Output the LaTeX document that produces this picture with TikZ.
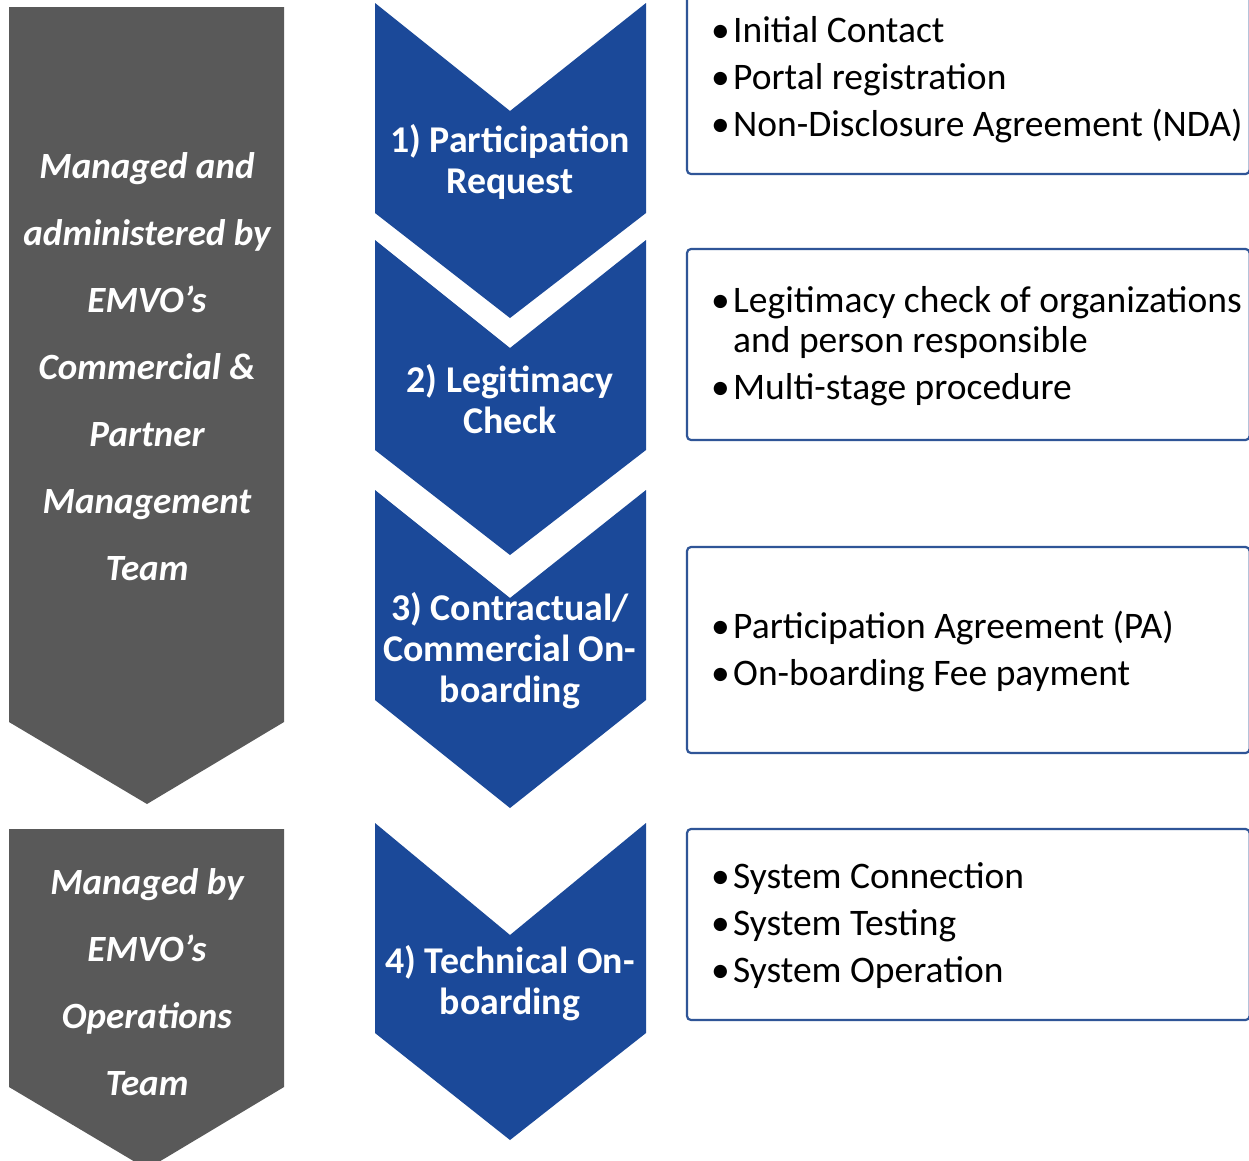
\documentclass[tikz,border=0pt]{standalone}
\usepackage{fontspec}
\setmainfont{Carlito}
\definecolor{greyarrow}{HTML}{595959}
\definecolor{chevblue}{HTML}{1B4999}
\definecolor{boxblue}{HTML}{2F5597}
\newcommand\blt[1]{\makebox[22pt][l]{\textbullet}#1}
\tikzset{
  greyshape/.style={fill=greyarrow, draw=none},
  chevshape/.style={fill=chevblue, draw=none},
  infobox/.style={draw=boxblue, line width=2.2pt, rounded corners=4pt},
  greytext/.style={text=white, align=center, inner sep=0pt,
    font=\fontsize{37}{67}\selectfont\bfseries\itshape},
  chevtext/.style={text=white, align=center, inner sep=0pt,
    font=\fontsize{37.8}{41}\selectfont\bfseries},
  bullettext/.style={anchor=base west, inner sep=0pt, text=black,
    font=\fontsize{37.5}{47}\selectfont}
}
\begin{document}
\begin{tikzpicture}[x=1pt, y=-1pt]
\clip (0,0) rectangle (1249,1160);
\fill[white] (0,0) rectangle (1249,1160);

% grey arrows
\fill[greyshape] (9,7) -- (284,7) -- (284,722) -- (147,804) -- (9,722) -- cycle;
\fill[greyshape] (9,829) -- (284,829) -- (284,1087) -- (147,1169) -- (9,1087) -- cycle;
\node[greytext] (g1) at (147,367) {Managed and\\administered by\\EMVO’s\\Commercial \&\\Partner\\Management\\Team};
\node[greytext] (g2) at (147,982) {Managed by\\EMVO’s\\Operations\\Team};

% blue chevrons
\fill[chevshape] (375,3) -- (510,111) -- (646,3) -- (646,213) -- (510,318) -- (375,213) -- cycle;
\fill[chevshape] (375,240) -- (510,348) -- (646,240) -- (646,450) -- (510,555) -- (375,450) -- cycle;
\fill[chevshape] (375,490) -- (510,598) -- (646,490) -- (646,700) -- (510,808) -- (375,700) -- cycle;
\fill[chevshape] (375,823) -- (510,935) -- (646,823) -- (646,1033) -- (510,1140) -- (375,1033) -- cycle;
\node[chevtext] (c1) at (510,162) {1) Participation\\Request};
\node[chevtext] (c2) at (510,399) {2) Legitimacy\\Check};
\node[chevtext] (c3) at (510,651) {3) Contractual/\\Commercial On-\\boarding};
\node[chevtext] (c4) at (510,983) {4) Technical On-\\boarding};

% info boxes
\draw[infobox] (687,-10) rectangle (1249.6,174);
\draw[infobox] (687,249) rectangle (1249.6,440);
\draw[infobox] (687,547) rectangle (1249.6,753);
\draw[infobox] (687,829) rectangle (1249.6,1020);

\node[bullettext] (b1a) at (711,42) {\blt{Initial Contact}};
\node[bullettext] (b1b) at (711,89) {\blt{Portal registration}};
\node[bullettext] (b1c) at (711,136) {\blt{Non-Disclosure Agreement (NDA)}};

\node[bullettext] (b2a) at (711,312) {\blt{Legitimacy check of organizations}};
\node[bullettext] (b2b) at (733,352) {and person responsible};
\node[bullettext] (b2c) at (711,399) {\blt{Multi-stage procedure}};

\node[bullettext] (b3a) at (711,638) {\blt{Participation Agreement (PA)}};
\node[bullettext] (b3b) at (711,685) {\blt{On-boarding Fee payment}};

\node[bullettext] (b4a) at (711,888) {\blt{System Connection}};
\node[bullettext] (b4b) at (711,935) {\blt{System Testing}};
\node[bullettext] (b4c) at (711,982) {\blt{System Operation}};
\end{tikzpicture}
\end{document}
